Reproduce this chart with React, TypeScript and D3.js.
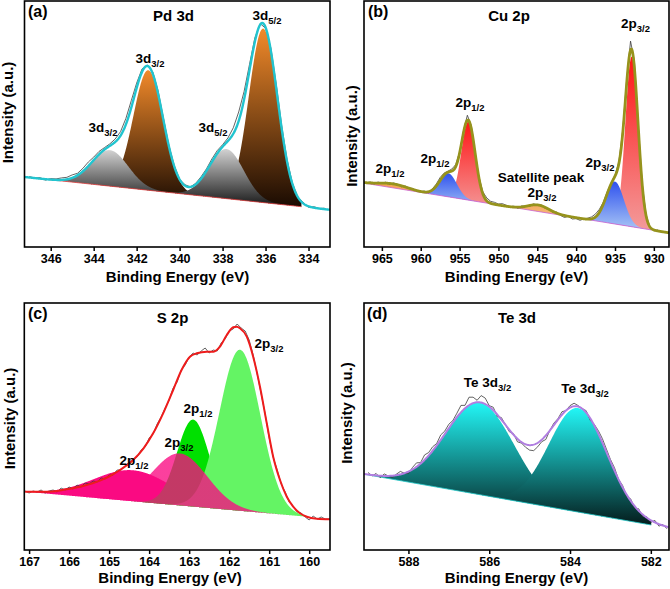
import React, { useEffect, useRef } from 'react'
import * as d3 from 'd3'

const W = 670
const H = 589
const FONT = "'Liberation Sans', Arial, Helvetica, sans-serif"

// ---------- (a) Pd 3d ----------
const pdTicks = [346, 344, 342, 340, 338, 336, 334]
// component fits: orange 3d3/2, orange 3d5/2, grey 3d3/2, grey 3d5/2
const pdCenters = [341.46, 336.11, 343.24, 337.82]
const pdHeights = [120, 174, 36, 49.6]
const pdFwhm = [1.63, 1.57, 2.0, 1.9]
const pdBgE = [346.65, 334.33]
const pdBgI = [68.7, 40.3]
const pdRawStart = 347.0
const pdRawStep = 0.25
const pdResid = [1, 0, 1, -1, 1, 1, 2, 2, 3, 2, 3, 4, 3, 3, 2, 2, 3, 4, 6, 7, 5, 3, 1, 2, 3, 2, 1, 1, 0,
  1, 0, 1, 2, 2, 3, 3, 2, 3, 6, 9, 8, 6, 4, 1, -1, 3, 4, 3, 2, 1, 0, 1, -1, 1, 0, 1]

// ---------- (b) Cu 2p ----------
const cuTicks = [965, 960, 955, 950, 945, 940, 935, 930]
// satellites, red main lines, blue shoulders
const cuCenters = [963.53, 944.87, 953.88, 932.85, 956.45, 935.0]
const cuHeights = [4, 6.5, 78.4, 170, 23.6, 42.4]
const cuFwhm = [4.5, 3.2, 2.1, 1.93, 2.6, 2.7]
const cuBgE = [967.17, 930.27]
const cuBgI = [63.7, 17]
const cuRawStart = 967.0
const cuRawStep = 0.5
const cuResid = [0, 1, -1, 1, 0, 1, -1, 1, 0.5, -1, 1, 0, 1, -1, 0, 1, -1, 1, 2, 3, 2, 1, 2, 2, 1, 2, 5, 3,
  1, 1, 2, 3, 2, 2, 1, 2, 1, 0, 1, -1, 1, 0, -1, 1, 0, 1, -1, 0, -1, 1, -1, -2, 0, -2, -1, -2, 0, 1, 2, 3,
  3, 2, 2, 1, 1, 2, 3, 4, 9, 7, 2, 1, 1, 0, -1, 1, -1, 0]

// ---------- (c) S 2p ----------
const sTicks = [167, 166, 165, 164, 163, 162, 161, 160]
// pink 2p1/2, green 2p1/2, light green 2p3/2, pink 2p3/2 (drawn translucent on top)
const sCenters = [164.4, 162.9, 161.73, 163.23]
const sHeights = [31, 87, 161, 52]
const sFwhm = [2.3, 0.95, 1.2, 1.6]
const sBgE = [167.1, 160.06]
const sBgI = [58.3, 33.3]
const sFitE = [167.1, 166.48, 166.06, 165.65, 165.23, 164.98, 164.73, 164.4, 164.14, 163.9, 163.65, 163.4,
  163.19, 162.98, 162.81, 162.56, 162.39, 162.23, 162.06, 161.9, 161.81, 161.73, 161.56, 161.4, 161.23,
  161.06, 160.9, 160.73, 160.56, 160.4, 160.23, 160.06, 159.81, 159.48]
const sFitI = [58.3, 58.3, 60.7, 64, 69.3, 74, 80, 90, 101.7, 116.7, 136.7, 160, 180, 193.3, 196.7, 198.3,
  198.3, 203.3, 215, 222.7, 223.3, 221.7, 213.3, 193.3, 163.3, 126.7, 93.3, 70, 53.3, 43.3, 36.7, 33.3,
  31.3, 30.7]
const sRawStart = 167.1
const sRawStep = 0.1
const sRaw = [59, 57, 59, 58, 60, 57, 59, 60, 58, 62, 60, 63, 61, 65, 63, 67, 66, 69, 68, 72, 71, 75, 75, 80,
  80, 84, 88, 91, 93, 100, 103, 112, 116, 126, 133, 142, 150, 162, 168, 180, 185, 193, 197, 195, 199, 202,
  197, 200, 199, 207, 211, 219, 221, 226, 222, 219, 210, 195, 176, 156, 136, 112, 93, 80, 66, 58, 48, 44,
  38, 37, 33, 30, 34, 31, 33, 31, 31]

// ---------- (d) Te 3d ----------
const teTicks = [588, 586, 584, 582]
const teCenters = [586.23, 583.8]
const teHeights = [92, 104]
const teFwhm = [2.0, 1.7]
const teBgE = [589.09, 581.99]
const teBgI = [75.7, 25]
const teRawStart = 589.0
const teRawStep = 0.1
const teResid = [2, -1, 2, -2, 2, 0, -2, 1, 3, 0, -2, 2, 4, 1, 5, 3, 4, 2, 5, 3, 4, 2, 4, 7, 3, 8, 6, 2,
  7, 6, 1, 3, -2, 2, 0, -2, 1, -3, -1, -3, -5, -6, -4, -2, -4, 0, 2, 1, 3, 0, 2, 3, 1, 0, 2, -2, 1, 3, 4,
  3, 2, 3, 0, 2, -2, 2, -2, 2, -2, 1, -2, 2, -2, 1, -2]

// ---------- layout & style ----------
type Label = { main: string; sub: string; x: number; y: number }

const panels = [
  {
    id: 'a', tag: '(a)', title: 'Pd 3d',
    box: [24.5, 1, 330, 247], domain: [347.22, 333.0], yTop: 246,
    ticks: pdTicks, centers: pdCenters, heights: pdHeights, fwhm: pdFwhm,
    bgE: pdBgE, bgI: pdBgI,
    fills: [['#f28a2a', '#1a0b02'], ['#f28a2a', '#1a0b02'], ['#d2d2d2', '#161616'], ['#d2d2d2', '#161616']],
    opac: [1, 1, 1, 1],
    rawStart: pdRawStart, rawStep: pdRawStep, resid: pdResid,
    envColor: '#22c4cf', envWidth: 2.4, bgColor: '#e04040',
    tagXY: [28, 17], titleXY: [173.5, 21], yLabelXY: [13, 112.5], xLabelXY: [177.5, 282],
    labels: [
      { main: '3d', sub: '5/2', x: 267, y: 20 },
      { main: '3d', sub: '3/2', x: 150, y: 63 },
      { main: '3d', sub: '3/2', x: 103, y: 132 },
      { main: '3d', sub: '5/2', x: 213, y: 132 },
    ] as Label[],
  },
  {
    id: 'b', tag: '(b)', title: 'Cu 2p',
    box: [364, 1, 669, 247], domain: [967.3, 928.05], yTop: 246,
    ticks: cuTicks, centers: cuCenters, heights: cuHeights, fwhm: cuFwhm,
    bgE: cuBgE, bgI: cuBgI,
    fills: [['#f2a050', '#f7c690'], ['#f2a050', '#f7c690'], ['#ff1616', '#f39a9a'], ['#ff1616', '#f39a9a'],
      ['#2f52ee', '#a9c6f5'], ['#2f52ee', '#a9c6f5']],
    opac: [1, 1, 1, 1, 1, 1],
    rawStart: cuRawStart, rawStep: cuRawStep, resid: cuResid,
    envColor: '#96931c', envWidth: 2.8, bgColor: '#c860d0',
    tagXY: [368, 17], titleXY: [509, 21], yLabelXY: [357, 136], xLabelXY: [516.5, 282],
    labels: [
      { main: '2p', sub: '3/2', x: 635.5, y: 28 },
      { main: '2p', sub: '1/2', x: 470, y: 107 },
      { main: '2p', sub: '1/2', x: 435, y: 163 },
      { main: '2p', sub: '1/2', x: 390, y: 173 },
      { main: 'Satellite peak', sub: '', x: 541, y: 181.5 },
      { main: '2p', sub: '3/2', x: 542, y: 197 },
      { main: '2p', sub: '3/2', x: 600, y: 167 },
    ] as Label[],
  },
  {
    id: 'c', tag: '(c)', title: 'S 2p',
    box: [24.3, 303, 330, 550], domain: [167.12, 159.48], yTop: 247,
    ticks: sTicks, centers: sCenters, heights: sHeights, fwhm: sFwhm,
    bgE: sBgE, bgI: sBgI,
    fills: [['#fa0a82', '#fa0a82'], ['#00e000', '#00e000'], ['#64f464', '#64f464'], ['#fa0a82', '#fa0a82']],
    opac: [1, 1, 1, 0.78],
    fitE: sFitE, fitI: sFitI,
    rawStart: sRawStart, rawStep: sRawStep, raw: sRaw,
    envColor: '#ee1c1c', envWidth: 2, bgColor: null,
    tagXY: [28, 319], titleXY: [172.5, 323], yLabelXY: [15, 418.5], xLabelXY: [170, 583],
    labels: [
      { main: '2p', sub: '3/2', x: 269, y: 348 },
      { main: '2p', sub: '1/2', x: 198, y: 413 },
      { main: '2p', sub: '3/2', x: 179, y: 447 },
      { main: '2p', sub: '1/2', x: 134, y: 465 },
    ] as Label[],
  },
  {
    id: 'd', tag: '(d)', title: 'Te 3d',
    box: [364, 303, 669, 550], domain: [589.1, 581.55], yTop: 247,
    ticks: teTicks, centers: teCenters, heights: teHeights, fwhm: teFwhm,
    bgE: teBgE, bgI: teBgI,
    fills: [['#22f6f6', '#041c1c'], ['#22f6f6', '#041c1c']],
    opac: [1, 1],
    rawStart: teRawStart, rawStep: teRawStep, resid: teResid,
    envColor: '#b07ee0', envWidth: 2, bgColor: '#22c8c8',
    tagXY: [367, 319], titleXY: [517, 323], yLabelXY: [352, 413], xLabelXY: [516.5, 583],
    labels: [
      { main: 'Te 3d', sub: '3/2', x: 487.5, y: 387 },
      { main: 'Te 3d', sub: '3/2', x: 585, y: 393 },
    ] as Label[],
  },
]

function addLabel(g: any, l: Label, size: number) {
  const t = g.append('text')
    .attr('x', l.x).attr('y', l.y)
    .attr('text-anchor', 'middle')
    .attr('font-family', FONT).attr('font-weight', 'bold').attr('font-size', size)
  t.append('tspan').text(l.main)
  if (l.sub) t.append('tspan').attr('font-size', size * 0.7).attr('dy', size * 0.3).text(l.sub)
}

function drawPanel(svg: any, defs: any, p: any) {
  const [x0, y0, x1, y1] = p.box
  const x = d3.scaleLinear().domain(p.domain).range([x0, x1])
  const y = d3.scaleLinear().domain([0, p.yTop]).range([y1, y0])

  const bg = (e: number) => p.bgI[0] + (e - p.bgE[0]) * (p.bgI[1] - p.bgI[0]) / (p.bgE[1] - p.bgE[0])
  const peak = (k: number, e: number) =>
    p.heights[k] * Math.exp(-4 * Math.LN2 * ((e - p.centers[k]) / p.fwhm[k]) ** 2)
  const model = (e: number) => bg(e) + d3.sum(p.centers, (_: number, k: number) => peak(k, e))

  defs.append('clipPath').attr('id', 'clip-' + p.id)
    .append('rect').attr('x', x0).attr('y', y0).attr('width', x1 - x0).attr('height', y1 - y0)
  const g = svg.append('g').attr('clip-path', `url(#clip-${p.id})`)

  // fitted components
  p.centers.forEach((c: number, k: number) => {
    const hi = Math.min(p.bgE[0], c + 4 * p.fwhm[k])
    const lo = Math.max(p.bgE[1], c - 4 * p.fwhm[k])
    const es = d3.range(hi, lo, -0.01).concat([lo])
    const gid = `grad-${p.id}-${k}`
    const lg = defs.append('linearGradient').attr('id', gid)
      .attr('x1', 0).attr('y1', 0).attr('x2', 0).attr('y2', 1)
    lg.append('stop').attr('offset', 0).attr('stop-color', p.fills[k][0])
    lg.append('stop').attr('offset', 1).attr('stop-color', p.fills[k][1])
    const area = d3.area<number>()
      .x(e => x(e))
      .y0(e => y(bg(e)))
      .y1(e => y(bg(e) + peak(k, e)))
    g.append('path').attr('d', area(es))
      .attr('fill', `url(#${gid})`).attr('fill-opacity', p.opac[k])
  })

  if (p.bgColor) {
    g.append('line')
      .attr('x1', x(p.bgE[0])).attr('y1', y(p.bgI[0]))
      .attr('x2', x(p.bgE[1])).attr('y2', y(p.bgI[1]))
      .attr('stroke', p.bgColor).attr('stroke-width', 0.8)
  }

  // raw spectrum
  const rawE: number[] = (p.raw || p.resid).map((_: number, i: number) => p.rawStart - i * p.rawStep)
  const rawI: number[] = p.raw ? p.raw : rawE.map((e, i) => model(e) + p.resid[i])
  const rawLine = d3.line<number>().x((_, i) => x(rawE[i])).y(v => y(v))
  g.append('path').attr('d', rawLine(rawI))
    .attr('fill', 'none').attr('stroke', '#3c3c3c').attr('stroke-width', 0.8)

  // envelope
  let envPath: string | null
  if (p.fitE) {
    envPath = d3.line<number>().x((_, i) => x(p.fitE[i])).y(v => y(v)).curve(d3.curveMonotoneX)(p.fitI)
  } else {
    const es = d3.range(p.domain[0], p.domain[1], -0.02)
    envPath = d3.line<number>().x(e => x(e)).y(e => y(model(e)))(es)
  }
  g.append('path').attr('d', envPath)
    .attr('fill', 'none').attr('stroke', p.envColor).attr('stroke-width', p.envWidth)
    .attr('stroke-linejoin', 'round')

  // frame
  svg.append('rect').attr('x', x0).attr('y', y0).attr('width', x1 - x0).attr('height', y1 - y0)
    .attr('fill', 'none').attr('stroke', '#000').attr('stroke-width', 1.6)

  // x axis
  const ax = svg.append('g').attr('transform', `translate(0,${y1})`)
    .call(d3.axisBottom(x).tickValues(p.ticks).tickSize(4).tickSizeOuter(0).tickPadding(3)
      .tickFormat(d3.format('d')))
  ax.select('.domain').remove()
  ax.selectAll('line').attr('stroke', '#000').attr('stroke-width', 1.5)
  ax.selectAll('text').attr('font-family', FONT).attr('font-weight', 'bold')
    .attr('font-size', 12.5).attr('fill', '#000')

  // texts
  svg.append('text').attr('x', p.xLabelXY[0]).attr('y', p.xLabelXY[1]).attr('text-anchor', 'middle')
    .attr('font-family', FONT).attr('font-weight', 'bold').attr('font-size', 15)
    .text('Binding Energy (eV)')
  svg.append('text')
    .attr('transform', `translate(${p.yLabelXY[0]},${p.yLabelXY[1]}) rotate(-90)`)
    .attr('text-anchor', 'middle')
    .attr('font-family', FONT).attr('font-weight', 'bold').attr('font-size', 15)
    .text('Intensity (a.u.)')
  svg.append('text').attr('x', p.tagXY[0]).attr('y', p.tagXY[1])
    .attr('font-family', FONT).attr('font-weight', 'bold').attr('font-size', 16).text(p.tag)
  svg.append('text').attr('x', p.titleXY[0]).attr('y', p.titleXY[1]).attr('text-anchor', 'middle')
    .attr('font-family', FONT).attr('font-weight', 'bold').attr('font-size', 15).text(p.title)
  const lab = svg.append('g')
  p.labels.forEach((l: Label) => addLabel(lab, l, 13.5))
}

export default function App() {
  const ref = useRef<SVGSVGElement>(null)

  useEffect(() => {
    const svg = d3.select(ref.current)
    svg.selectAll('*').remove()
    const defs = svg.append('defs')
    panels.forEach(p => drawPanel(svg, defs, p))
  }, [])

  return (
    <svg ref={ref} width={W} height={H}
      style={{ position: 'absolute', left: 0, top: 0, background: '#fff' }} />
  )
}
